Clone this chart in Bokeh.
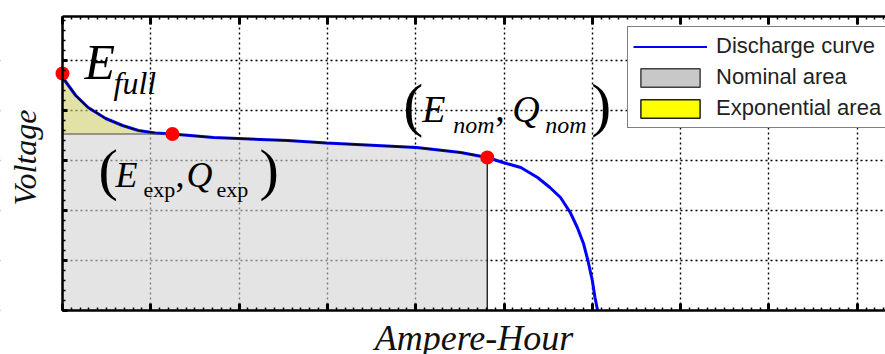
from bokeh.plotting import figure
from bokeh.models import Range1d, LinearAxis, SingleIntervalTicker, Legend, LegendItem
from bokeh.core.properties import value
from bokeh.embed import file_html
from bokeh.resources import INLINE
import numpy as np

# Battery discharge curve (capacity in Ah, terminal voltage in V)
ampere_hour = [0.00, 0.01, 0.15, 0.29, 0.49, 0.68, 0.86, 1.05, 1.245, 1.71,
               2.55, 2.99, 4.01, 4.51, 4.81, 4.99, 5.19, 5.38, 5.52, 5.64,
               5.75, 5.83, 5.90, 5.95, 6.00, 6.03, 6.06]
voltage = [4.74, 4.64, 4.30, 4.06, 3.84, 3.70, 3.60, 3.55, 3.53, 3.46,
           3.40, 3.35, 3.26, 3.16, 3.06, 2.96, 2.86, 2.66, 2.46, 2.26,
           1.96, 1.66, 1.34, 1.00, 0.60, 0.26, 0.00]

# Characteristic points: full charge, end of exponential zone, end of nominal zone
key_q = [0.0, 1.245, 4.81]
key_v = [4.74, 3.53, 3.06]

legend_labels = ["Discharge curve", "Nominal area", "Exponential area"]

q = np.array(ampere_hour)
v = np.array(voltage)
q_full, q_exp, q_nom = key_q
e_full, e_exp, e_nom = key_v

# The frame covers the whole canvas; the axes sit at fixed data positions and
# the margins around the axis box are painted white.
Q_MAX, V_MAX = 9.32, 5.88          # axis box limits
X0, X1 = -0.702, Q_MAX
Y0, Y1 = -0.88, 6.2

p = figure(width=885, height=354, x_range=Range1d(X0, X1), y_range=Range1d(Y0, Y1),
           output_backend="svg", toolbar_location=None,
           min_border_left=0, min_border_right=0, min_border_top=0, min_border_bottom=0)
p.outline_line_color = None
p.background_fill_color = "white"
p.border_fill_color = "white"

def style_axis(ax, major_in, minor_in):
    ax.axis_line_color = "black"
    ax.axis_line_width = 2.5
    ax.major_tick_in = major_in
    ax.major_tick_out = 0
    ax.major_tick_line_width = 3
    ax.major_tick_line_color = "black"
    ax.minor_tick_in = minor_in
    ax.minor_tick_out = 0
    ax.minor_tick_line_width = 1.5
    ax.minor_tick_line_color = "black"
    ax.major_label_text_font_size = "0px"
    ax.major_label_text_color = None
    ax.major_label_standoff = 0

bottom = p.xaxis[0]
bottom.ticker = SingleIntervalTicker(interval=1, num_minor_ticks=10)
bottom.bounds = (0, Q_MAX)
bottom.fixed_location = 0
style_axis(bottom, 7, 3)

top = LinearAxis(ticker=SingleIntervalTicker(interval=1, num_minor_ticks=10),
                 bounds=(0, Q_MAX), fixed_location=V_MAX)
style_axis(top, 8, 3)
p.add_layout(top, "above")

left = p.yaxis[0]
left.ticker = SingleIntervalTicker(interval=1, num_minor_ticks=5)
left.bounds = (0, V_MAX)
left.fixed_location = 0
style_axis(left, 5, 3)

for g in (p.xgrid[0], p.ygrid[0]):
    g.grid_line_color = "black"
    g.grid_line_dash = "2 3"
    g.grid_line_width = 1.4

# white margins outside the axis box, painted over the grid
p.quad(left=[X0, X0, X0], right=[0, X1, X1], bottom=[Y0, Y0, V_MAX], top=[Y1, 0, Y1],
       fill_color="white", line_color=None)

# --- shaded areas ---
m_nom = q <= q_nom
p.varea(x=q[m_nom], y1=np.zeros(m_nom.sum()), y2=np.minimum(v[m_nom], e_exp),
        fill_color="#d2d2d2", fill_alpha=0.6)
m_exp = q <= q_exp
p.varea(x=q[m_exp], y1=np.full(m_exp.sum(), e_exp), y2=v[m_exp],
        fill_color="#cfcd6b", fill_alpha=0.6)

# --- discharge curve ---
p.line(q, v, line_color="#0000ff", line_width=3)
p.line(q[m_nom], v[m_nom], line_color="black", line_width=1.2)
p.segment(x0=[q_full], y0=[e_exp], x1=[q_exp], y1=[e_exp], line_color="#444444", line_width=1)
p.segment(x0=[q_nom], y0=[0], x1=[q_nom], y1=[e_nom], line_color="black", line_width=1.2)

p.scatter(key_q, key_v, size=14, fill_color="#ff0000", line_color=None)

# Bokeh's alphabetic anchor lands a bit below the glyph baseline; lift by a
# fraction of the font size.
LIFT = 0.39

def put(i, dx, dy, txt, size, style="italic"):
    p.text(x=[key_q[i]], y=[key_v[i]], text=[txt], x_offset=dx,
           y_offset=dy - round(LIFT * size),
           text_font=value("Liberation Serif"), text_font_style=style,
           text_font_size=f"{size}px", text_color="black",
           text_align="left", text_baseline="alphabetic")

# E_full
put(0, 22, 8, "E", 50)
put(0, 51, 21, "full", 32)

# (E_exp, Q_exp)
put(1, -74, 58, "(", 58, "normal")
put(1, -57, 55, "E", 36)
put(1, -29, 64, "exp", 22, "normal")
put(1, 3, 55, ",", 36, "normal")
put(1, 14, 55, "Q", 36)
put(1, 44, 64, "exp", 22, "normal")
put(1, 87, 58, ")", 58, "normal")

# (E_nom, Q_nom)
put(2, -84, -30, "(", 60, "normal")
put(2, -65, -34, "E", 38)
put(2, -34, -24, "nom", 24)
put(2, 8, -34, ",", 38, "normal")
put(2, 25, -34, "Q", 38)
put(2, 58, -24, "nom", 24)
put(2, 104, -30, ")", 60, "normal")

# --- axis titles ---
p.text(x=[-0.43], y=[3.06], text=["Voltage"], angle=np.pi / 2,
       text_font=value("Liberation Serif"), text_font_style="italic",
       text_font_size="32px", text_color="#111111",
       text_align="center", text_baseline="alphabetic")
p.text(x=[Q_MAX / 2], y=[-0.54], text=["Ampere-Hour"],
       text_font=value("Liberation Serif"), text_font_style="italic",
       text_font_size="36px", text_color="#111111",
       text_align="center", text_baseline="alphabetic")

# --- legend swatches (not drawn in the plot area) ---
nan = [np.nan]
lg_line = p.line(x=nan, y=nan, line_color="#0000ff", line_width=2)
lg_nom = p.quad(left=nan, right=nan, top=nan, bottom=nan, fill_color="#c8c8c8",
                line_color="#404040", line_width=1.5)
lg_exp = p.quad(left=nan, right=nan, top=nan, bottom=nan, fill_color="#ffff00",
                line_color="#202020", line_width=1.5)

legend = Legend(items=[LegendItem(label=legend_labels[0], renderers=[lg_line]),
                       LegendItem(label=legend_labels[1], renderers=[lg_nom]),
                       LegendItem(label=legend_labels[2], renderers=[lg_exp])],
                location=(627, 226), padding=5, spacing=3, margin=0,
                glyph_width=74, glyph_height=23, label_height=28, label_standoff=9,
                label_text_font="Liberation Sans", label_text_font_size="22px",
                label_text_color="#222222",
                border_line_color="black", border_line_width=1.5,
                background_fill_color="white", background_fill_alpha=1.0)
p.add_layout(legend)

open("out.html", "w").write(file_html(p, INLINE))
